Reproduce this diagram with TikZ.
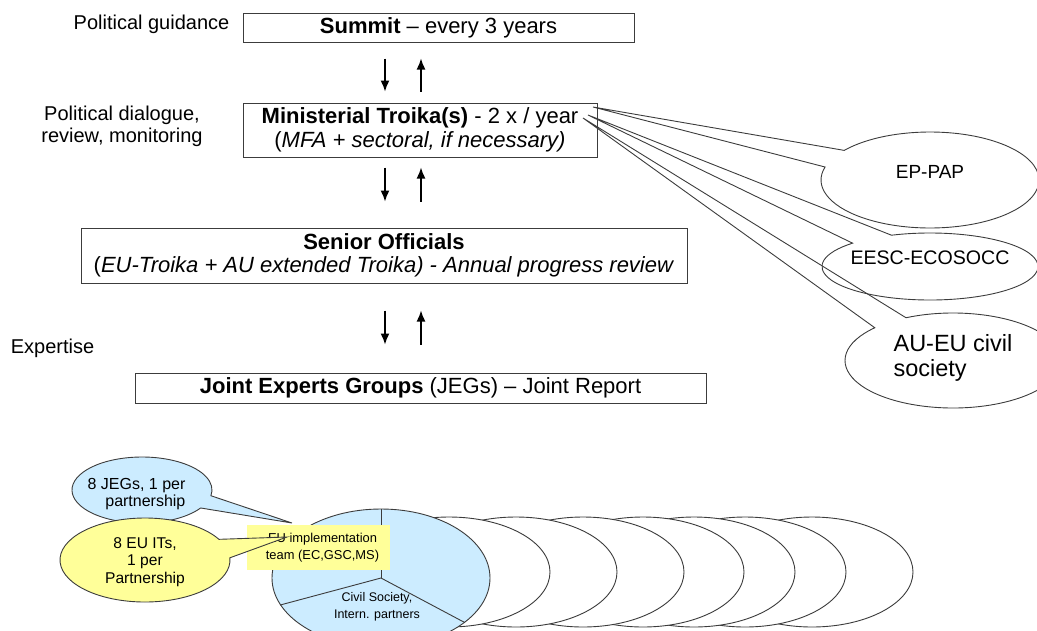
\documentclass[tikz,border=0pt]{standalone}
\usepackage{fontspec}
\setmainfont{Liberation Sans}
\usepackage{tikz}
\definecolor{jegBlue}{HTML}{CCECFF}
\definecolor{itYellow}{HTML}{FFFF99}
\definecolor{edgeGray}{HTML}{3C3C3C}
\usetikzlibrary{calc}
\usetikzlibrary{shapes.geometric}
\usetikzlibrary{arrows.meta}

\begin{document}
\begin{tikzpicture}[x=1pt, y=-1pt,
  level/.style={draw=edgeGray, line width=1pt, inner sep=0pt, align=center, font=\fontsize{22}{23.5}\selectfont},
  side/.style={inner sep=0pt, align=center, font=\fontsize{20}{22}\selectfont},
  flow/.style={line width=1.5pt, -{Latex[length=11pt, width=9pt]}},
  bubble/.style={draw=edgeGray, line width=0.9pt},
  team/.style={ellipse, draw=edgeGray, line width=0.9pt, fill=white, inner sep=0pt}]
  \useasboundingbox (0,0) rectangle (1037,630);

  % levels
  \node[level, minimum width=391, minimum height=29] (summit) at (438.5,27.5) {\textbf{Summit} -- every 3 years};
  \node[level, minimum width=354, minimum height=54] (mini) at (420,130) {\textbf{Ministerial Troika(s)} - 2 x / year\\(\textit{MFA + sectoral, if necessary)}};
  \node[level, minimum width=606, minimum height=55] (senior) at (384,255.5) {\textbf{Senior Officials}\\(\textit{EU-Troika + AU extended Troika) - Annual progress review}};
  \node[level, minimum width=571, minimum height=30] (joint) at (420.5,388) {\textbf{Joint Experts Groups} (JEGs) -- Joint Report};

  \node[side] (guidance) at (151.5,24) {Political guidance};
  \node[side] (dialogue) at (122,126) {Political dialogue,\\review, monitoring};
  \node[side] (expertise) at (52.5,348) {Expertise};

  % up and down
  \coordinate (dn) at (385,0);
  \coordinate (up) at (421,0);
  \foreach \a/\b/\s/\e in {summit/mini/16/11, mini/senior/10/26, senior/joint/27/28} {
    \draw[flow] ($(\a.south -| dn)+(0,\s)$) -- ($(\b.north -| dn)-(0,\e)$);
    \draw[flow] ($(\b.north -| up)-(0,\e)$) -- ($(\a.south -| up)+(0,\s)$);
  }

  % parliaments and civil society
  \coordinate (tipA) at (593,107);
  \coordinate (tipB) at (588,115);
  \coordinate (tipC) at (583,118);
  \draw[bubble] (tipA) -- ($(930,180)+(218.1:109 and 48)$) arc[start angle=218.1, end angle=555.7, x radius=109, y radius=48] -- cycle;
  \draw[bubble] (tipB) -- ($(930,266.5)+(249.1:108 and 33.5)$) arc[start angle=249.1, end angle=584.2, x radius=108, y radius=33.5] -- cycle;
  \draw[bubble] (tipC) -- ($(953,360.5)+(244.2:108 and 47.5)$) arc[start angle=244.2, end angle=583.6, x radius=108, y radius=47.5] -- cycle;
  \node[font=\fontsize{19}{21}\selectfont] (eppap) at (930,172) {EP-PAP};
  \node[font=\fontsize{19.6}{21}\selectfont] (eesc) at (930,258) {EESC-ECOSOCC};
  \node[align=left, inner sep=0pt, font=\fontsize{23.5}{25}\selectfont] (aueu) at (953,358) {AU-EU civil\\society};

  % partnerships
  \foreach \cx in {812,745,694,643,583,516,449}
    \node[team, minimum width=202, minimum height=110] (team\cx) at (\cx,572) {};
  \node[team, fill=jegBlue, minimum width=218, minimum height=138] (pie) at (381,578) {};
  \draw[edgeGray, line width=0.9pt] (pie.north) -- (pie.center);
  \draw[edgeGray, line width=0.9pt] (pie.195) -- (pie.center) -- (pie.-28);
  \node[align=center, inner sep=0pt, font=\fontsize{12.5}{17}\selectfont] (civil) at (377,606.5) {Civil Society,\\Intern. partners};
  \node[fill=itYellow, inner sep=0pt, minimum width=143, minimum height=45, align=center,
    font=\fontsize{12.9}{16.5}\selectfont] (impl) at (318.5,547.5) {\hspace*{8pt}EU implementation\\\hspace*{8pt}team (EC,GSC,MS)};

  \coordinate (tipJ) at (292,523);
  \coordinate (tipI) at (287,537);
  \draw[bubble, fill=jegBlue] (tipJ) -- ($(142,490)+(33:70 and 33)$) arc[start angle=33, end angle=370, x radius=70, y radius=33] -- cycle;
  \node[align=right, inner sep=0pt, font=\fontsize{16}{17.5}\selectfont] (jegs) at (136.5,494) {8 JEGs, 1 per\\partnership};
  \draw[bubble, fill=itYellow] (tipI) -- ($(145,560)+(-3:85 and 42)$) arc[start angle=-3, end angle=330.5, x radius=85, y radius=42] -- cycle;
  \node[align=center, inner sep=0pt, font=\fontsize{15.6}{17.5}\selectfont] (euits) at (145,562) {8 EU ITs,\\1 per\\Partnership};
\end{tikzpicture}
\end{document}
